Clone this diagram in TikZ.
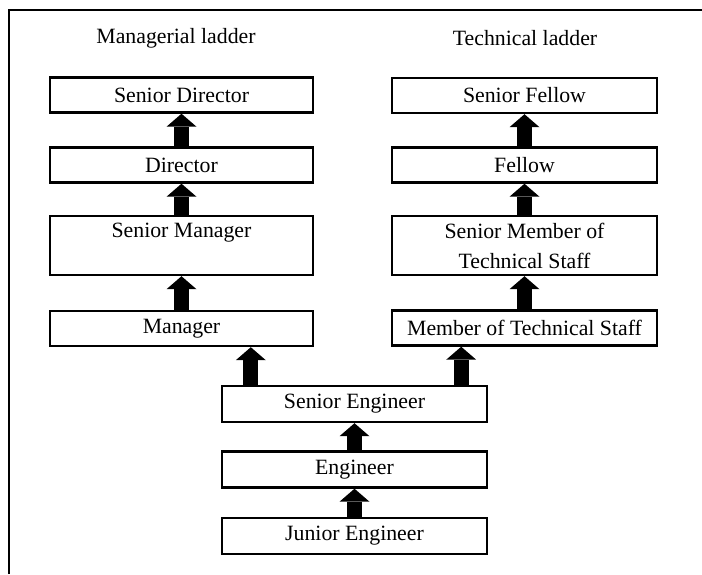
\documentclass[tikz,border=0pt]{standalone}
\usepackage{fontspec}
\setmainfont{Liberation Serif}
\usetikzlibrary{arrows.meta}

\tikzset{
  rung/.style={draw, line width=1.2pt, inner sep=0pt, align=center,
    minimum width=131.5pt, minimum height=17.5pt},
  tallrung/.style={rung, minimum height=29.5pt},
  uparrow/.style={line width=7.5pt,
    -{Triangle[width=15pt,length=6.5pt,line width=0pt]}, shorten >=0pt}
}

\begin{document}
\begin{tikzpicture}[x=0.5pt,y=-0.5pt,font=\fontsize{10.9}{15}\selectfont]
    \useasboundingbox (0,0) rectangle (702,574);

    % Frame (only top and left edges are visible):
    \draw [line width=1pt] (9,574) -- (9,10) -- (702,10);

    % Headings:
    \node (mhead) at (176,38) {Managerial ladder};
    \node (thead) at (525,38) {Technical ladder};

    % Managerial ladder:
    \node [rung] (sdir) at (181.5,95) {Senior Director};
    \node [rung] (dir) at (181.5,165) {Director};
    \node [tallrung] (smgr) at (181.5,245.5) {Senior Manager\\~};
    \node [rung] (mgr) at (181.5,328.5) {Manager};

    % Technical ladder:
    \node [rung, minimum width=132.5pt] (sfel) at (524.5,95.5) {Senior Fellow};
    \node [rung, minimum width=132.5pt] (fel) at (524.5,165) {Fellow};
    \node [tallrung, minimum width=132.5pt] (smts) at (524.5,245.5) {Senior Member of\\Technical Staff};
    \node [rung, minimum width=132.5pt] (mts) at (524.5,328) {Member of Technical Staff};

    % Common trunk:
    \node [rung, minimum width=132.5pt, minimum height=18pt] (seng) at (354.5,404) {Senior Engineer};
    \node [rung, minimum width=132.5pt, minimum height=18pt] (eng) at (354.5,469.5) {Engineer};
    \node [rung, minimum width=132.5pt, minimum height=18pt] (jeng) at (354.5,536) {Junior Engineer};

    % Promotions:
    \draw [uparrow] (jeng.north) -- (eng.south);
    \draw [uparrow] (eng.north) -- (seng.south);
    \draw [uparrow] ([xshift=15pt]seng.north west) -- ([xshift=15pt]seng.north west |- mgr.south);
    \draw [uparrow] ([xshift=-13.5pt]seng.north east) -- ([xshift=-13.5pt]seng.north east |- mts.south);
    \draw [uparrow] (mgr.north) -- (smgr.south);
    \draw [uparrow] (smgr.north) -- (dir.south);
    \draw [uparrow] (dir.north) -- (sdir.south);
    \draw [uparrow] (mts.north) -- (smts.south);
    \draw [uparrow] (smts.north) -- (fel.south);
    \draw [uparrow] (fel.north) -- (sfel.south);
\end{tikzpicture}
\end{document}
